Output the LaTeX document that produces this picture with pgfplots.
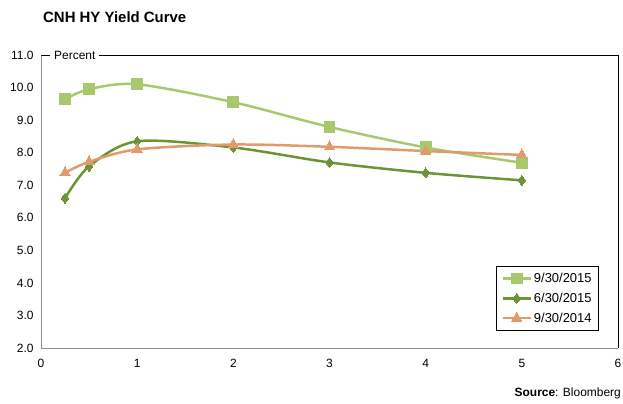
\documentclass[border=0pt]{standalone}
\usepackage{pgfplots}
\pgfplotsset{compat=1.18}
\usepackage{fontspec}
\setmainfont{Liberation Sans}
\definecolor{lgreen}{HTML}{A9C86E}
\definecolor{dgreen}{HTML}{6C9434}
\definecolor{orng}{HTML}{E09A6C}
\begin{document}
\begin{tikzpicture}[x=1bp,y=1bp]
\useasboundingbox (0,0) rectangle (623,403);
\node[anchor=base west,font=\fontsize{15}{17}\selectfont\bfseries,inner sep=0] at (43,381) {CNH HY Yield Curve};
\begin{axis}[
  at={(41bp,55bp)}, anchor=south west,
  width=577bp, height=293bp, scale only axis,
  xmin=0, xmax=6, ymin=2, ymax=11,
  xtick={0,1,2,3,4,5,6}, ytick={2,3,4,5,6,7,8,9,10,11},
  major tick length=0,
  axis line style={draw=none},
  tick label style={font=\fontsize{12}{14}\selectfont},
  /pgf/number format/assume math mode=true,
  yticklabel style={/pgf/number format/fixed, /pgf/number format/fixed zerofill, /pgf/number format/precision=1, xshift=-4bp},
  xticklabel style={yshift=-8bp},
  legend style={at={(rel axis cs:0.967,0.058)}, anchor=south east, draw=black, line width=0.8pt,
    font=\fontsize{13}{15}\selectfont, row sep=5pt, inner xsep=5pt, inner ysep=5pt,
    cells={anchor=west}},
  legend image code/.code={\draw[#1, line width=2.5pt] (0bp,0bp) -- (28bp,0bp); \draw[#1,mark repeat=1] plot coordinates {(14bp,0bp)};},
  clip=false,
]
\draw[draw=gray!90, line width=0.8pt] (rel axis cs:0,1) -- (rel axis cs:0,0) -- (rel axis cs:1,0);
\draw[black, line width=0.8pt] (rel axis cs:0,1) -- (rel axis cs:1,1) -- (rel axis cs:1,0);
\node[anchor=west, fill=white, inner xsep=4pt, inner ysep=1pt, font=\fontsize{12}{14}\selectfont] at ([xshift=9bp]rel axis cs:0,1) {Percent};
\addplot[smooth, tension=0.5, color=lgreen, line width=2.5pt, mark=square*, mark size=5.5pt, mark options={solid, line width=0pt}]
 coordinates {(0.25,9.64) (0.5,9.95) (1,10.1) (2,9.55) (3,8.79) (4,8.16) (5,7.69)};
\addlegendentry{9/30/2015}
\addplot[smooth, tension=0.5, color=dgreen, line width=2.5pt, mark=diamond*, mark size=5pt, mark options={solid, line width=0pt}]
 coordinates {(0.25,6.6) (0.5,7.58) (1,8.35) (2,8.16) (3,7.70) (4,7.38) (5,7.15)};
\addlegendentry{6/30/2015}
\addplot[smooth, tension=0.5, color=orng, line width=2.5pt, mark=triangle*, mark size=6pt, mark options={solid, line width=0pt}]
 coordinates {(0.25,7.38) (0.5,7.72) (1,8.1) (2,8.25) (3,8.18) (4,8.05) (5,7.93)};
\addlegendentry{9/30/2014}
\end{axis}
\node[anchor=base east,inner sep=0,font=\fontsize{12}{14}\selectfont] at (621,7) {\textbf{Source}: Bloomberg};
\end{tikzpicture}
\end{document}
